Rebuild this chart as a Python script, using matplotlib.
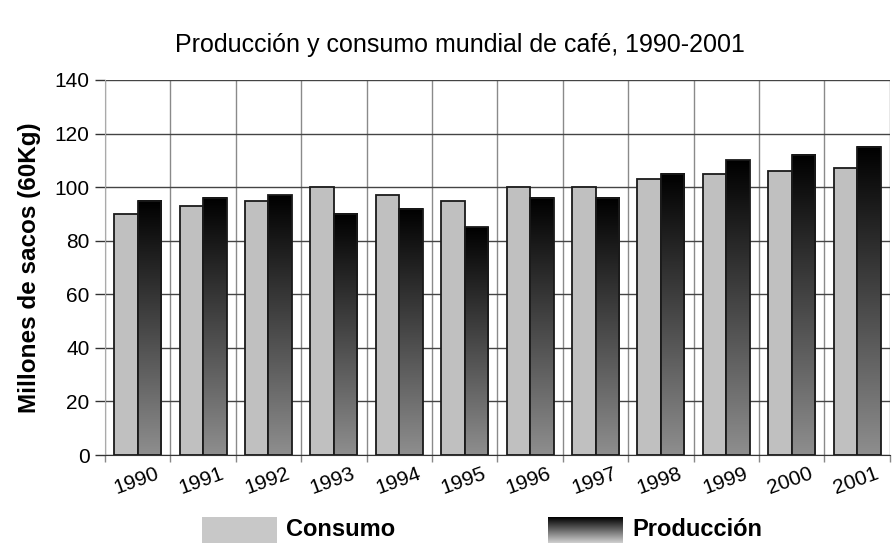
import matplotlib
matplotlib.use("Agg")
import matplotlib.pyplot as plt
import numpy as np
from matplotlib.colors import LinearSegmentedColormap
from matplotlib.patches import Rectangle

years = ["1990", "1991", "1992", "1993", "1994", "1995", "1996", "1997", "1998", "1999", "2000", "2001"]
consumo = [90, 93, 95, 100, 97, 95, 100, 100, 103, 105, 106, 107]
produccion = [95, 96, 97, 90, 92, 85, 96, 96, 105, 110, 112, 115]
yticks = [0, 20, 40, 60, 80, 100, 120, 140]

plt.rcParams['font.family'] = ['Liberation Sans', 'DejaVu Sans']

fig = plt.figure(figsize=(8.94, 5.43), dpi=100)
ax = fig.add_axes([0.1174, 0.162, 0.878, 0.6907])

x = np.arange(len(years))
w = 0.36
cmap = LinearSegmentedColormap.from_list("g", ["#8e8e8e", "#000000"])
grad = np.linspace(0, 1, 256).reshape(-1, 1)

ax.bar(x - w / 2, consumo, width=w, color="#c0c0c0", edgecolor="#1a1a1a", linewidth=1.3, zorder=3)
for xi, v in zip(x, produccion):
    ax.imshow(grad, extent=[xi, xi + w, 0, v], origin="lower", cmap=cmap, aspect="auto", zorder=3)
ax.bar(x + w / 2, produccion, width=w, color="none", edgecolor="#1a1a1a", linewidth=1.3, zorder=4)

ax.set_xlim(-0.5, len(years) - 0.5)
ax.set_ylim(0, 140)
ax.set_aspect("auto")
ax.set_yticks(yticks)
ax.set_yticklabels([str(t) for t in yticks], fontsize=15)
ax.tick_params(axis="y", length=7, width=1, color="#333333", pad=4)

# vertical gridlines at category boundaries
ax.set_xticks(np.arange(len(years) + 1) - 0.5)
ax.set_xticklabels([])
ax.tick_params(axis="x", length=5, width=1, color="#888888")
ax.grid(axis="x", color="#8a8a8a", linewidth=1, zorder=1)
ax.grid(axis="y", color="#444444", linewidth=1, zorder=1)
for xi, lab in zip(x, years):
    ax.text(xi - 0.02, -3.5, lab, rotation=20, ha="center", va="top", fontsize=15,
            transform=ax.transData)

for s in ["top", "right"]:
    ax.spines[s].set_visible(False)
ax.spines["left"].set_color("#aaaaaa")
ax.spines["bottom"].set_color("#333333")

ax.set_ylabel("Millones de sacos (60Kg)", fontsize=17.5, fontweight="bold", labelpad=10)
fig.text(460 / 894, 1 - 45 / 543, "Producción y consumo mundial de café, 1990-2001",
         ha="center", va="center", fontsize=18)

# legend
fig.patches.append(Rectangle((202 / 894, 0), 75 / 894, 26 / 543, transform=fig.transFigure,
                             facecolor="#c8c8c8", edgecolor="none"))
fig.text(286 / 894, 14 / 543, "Consumo", fontsize=17, fontweight="bold", va="center", ha="left")
lax = fig.add_axes([548 / 894, 0, 74 / 894, 26 / 543])
lax.imshow(grad, cmap=LinearSegmentedColormap.from_list("l", ["#d0d0d0", "#000000"]),
           origin="lower", aspect="auto", extent=[0, 1, 0, 1])
lax.axis("off")
fig.text(632 / 894, 14 / 543, "Producción", fontsize=17, fontweight="bold", va="center", ha="left")

fig.savefig("out.png", dpi=100)
